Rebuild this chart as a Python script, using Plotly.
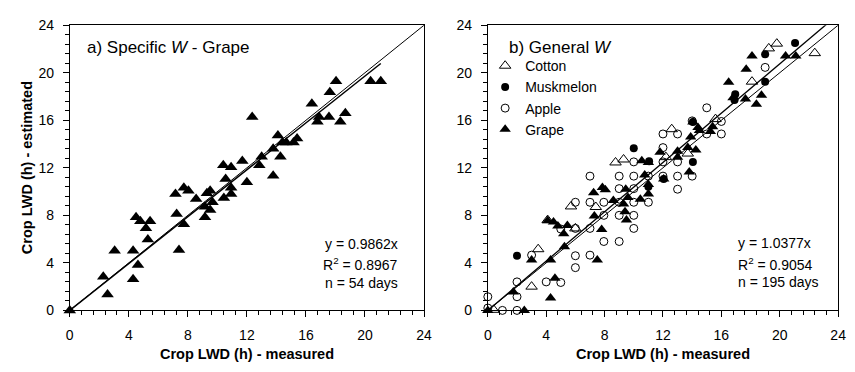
import plotly.graph_objects as go

# ---------------- data ----------------
# panel a) Specific W - Grape
grape_a_x = [0, 2.27, 2.56, 3.04, 4.29, 4.29, 4.49, 4.62, 4.78, 5.16, 5.44, 5.29, 7.16, 7.24, 7.4,
             7.73, 7.73, 8.04, 8.56, 9.16, 9.16, 9.29, 9.51, 9.51, 9.67, 10.4, 10.44, 10.56, 10.93,
             10.93, 10.93, 11.69, 12.0, 12.36, 12.84, 13.0, 13.78, 13.78, 14.1, 14.27, 14.4, 14.67,
             15.16, 15.4, 16.4, 16.78, 16.89, 17.56, 17.62, 18.04, 18.33, 18.67, 20.38, 21.07]
grape_a_y = [0, 2.84, 1.34, 5.03, 5.03, 2.62, 7.84, 3.83, 7.5, 6.91, 7.5, 5.97, 9.8, 8.11, 5.09,
             10.33, 7.26, 10.07, 9.37, 8.73, 7.84, 9.85, 10.07, 8.46, 9.1, 12.21, 9.45, 11.06, 12.05,
             10.33, 9.8, 12.58, 10.79, 16.28, 12.21, 12.93, 11.33, 13.6, 14.73, 12.93, 14.14, 14.14,
             14.14, 14.46, 17.4, 15.88, 16.28, 16.28, 18.37, 19.28, 15.88, 16.6, 19.28, 19.28]
slope_a = 0.9862

# panel b) General W
cotton_x = [0.4, 3.0, 3.45, 4.1, 5.7, 6.0, 7.4, 8.75, 9.3, 12.2, 12.6, 13.7, 15.6, 18.1, 19.25, 19.8, 22.4]
cotton_y = [0.05, 2.0, 5.15, 7.6, 8.75, 6.9, 8.7, 12.45, 12.7, 12.9, 15.25, 13.2, 16.1, 19.25, 22.05, 22.45, 21.65]

musk_x = [2.0, 10.0, 11.0, 11.05, 12.05, 14.05, 14.05, 16.9, 16.95, 19.0, 19.0, 21.05]
musk_y = [4.6, 13.65, 10.4, 12.55, 11.05, 12.5, 15.85, 17.7, 18.2, 19.25, 21.55, 22.5]

apple_x = [0, 0, 1, 2, 2, 2, 3, 4, 5, 5, 6, 6, 6, 6, 7, 7, 7, 7, 7.95, 7.95, 7.95, 9, 9, 9, 9, 9,
           10, 10, 10, 10, 10, 10, 11, 11, 12, 12, 12, 12, 13, 13, 13, 13, 14, 14, 15, 15, 16, 16, 19]
apple_y = [0.2, 1.15, 0, 0, 1.15, 2.4, 4.65, 2.4, 2.35, 6.85, 3.6, 4.6, 6.9, 9.1, 4.65, 6.9, 9.1, 11.3,
           5.8, 8.0, 9.1, 5.8, 8.0, 9.1, 10.25, 11.3, 6.9, 8.0, 9.1, 10.25, 11.3, 12.5, 9.1, 11.3,
           11.3, 12.5, 13.7, 14.85, 10.2, 11.3, 12.5, 14.85, 11.3, 15.95, 14.85, 17.05, 14.85, 15.9, 20.45]

grape_b_x = [0, 2.5, 1.75, 4.3, 4.6, 3.0, 4.3, 5.25, 4.1, 4.5, 4.8, 5.45, 5.2, 7.5, 7.8, 7.3, 7.25,
             7.85, 8.05, 8.6, 9.45, 9.6, 9.3, 9.4, 9.5, 10.45, 10.55, 10.75, 11.0, 11.0, 11.0, 11.8,
             12.05, 13.0, 13.0, 13.8, 13.7, 14.25, 13.9, 14.05, 14.4, 15.25, 15.4, 14.5, 16.5, 16.8,
             17.65, 17.7, 18.1, 18.4, 18.75, 20.4, 21.1]
grape_b_y = [0, 0, 1.55, 1.05, 2.7, 4.25, 4.25, 5.35, 7.55, 7.45, 7.1, 7.15, 6.45, 4.25, 6.8, 7.95, 9.9,
             10.35, 10.15, 9.25, 10.2, 9.5, 8.95, 8.3, 7.6, 9.35, 12.6, 11.4, 12.45, 10.6, 9.8, 13.3,
             11.05, 13.4, 12.9, 11.65, 13.7, 13.5, 14.6, 15.85, 15.4, 15.05, 15.45, 15.15, 19.2, 17.9,
             17.8, 20.3, 21.4, 17.35, 18.1, 21.4, 21.4]
slope_b = 1.0377

axis_range = [0, 24]
tick_vals = [0, 4, 8, 12, 16, 20, 24]
tick_text = [str(v) for v in tick_vals]

# ---------------- figure ----------------
W, H = 855, 372
FONT = "Liberation Sans, Arial, sans-serif"

fig = go.Figure()

# panel a
fig.add_trace(go.Scatter(x=axis_range, y=axis_range, mode="lines",
                         line=dict(color="black", width=1), xaxis="x", yaxis="y",
                         showlegend=False, hoverinfo="skip"))
fa_x = [0, max(grape_a_x)]
fig.add_trace(go.Scatter(x=fa_x, y=[slope_a * v for v in fa_x], mode="lines",
                         line=dict(color="black", width=1.5), xaxis="x", yaxis="y",
                         showlegend=False, hoverinfo="skip"))
fig.add_trace(go.Scatter(x=grape_a_x, y=grape_a_y, mode="markers", name="Grape",
                         marker=dict(symbol="triangle-up", size=11, color="black"),
                         xaxis="x", yaxis="y", showlegend=False, cliponaxis=False))

# panel b
fig.add_trace(go.Scatter(x=axis_range, y=axis_range, mode="lines",
                         line=dict(color="black", width=1), xaxis="x2", yaxis="y2",
                         showlegend=False, hoverinfo="skip"))
fig.add_trace(go.Scatter(x=axis_range, y=[slope_b * v for v in axis_range], mode="lines",
                         line=dict(color="black", width=1.3), xaxis="x2", yaxis="y2",
                         showlegend=False, hoverinfo="skip"))
fig.add_trace(go.Scatter(x=cotton_x, y=cotton_y, mode="markers", name="Cotton",
                         marker=dict(symbol="triangle-up-open", size=10, color="black",
                                     line=dict(width=1, color="black")),
                         xaxis="x2", yaxis="y2", cliponaxis=False))
fig.add_trace(go.Scatter(x=musk_x, y=musk_y, mode="markers", name="Muskmelon",
                         marker=dict(symbol="circle", size=8, color="black"),
                         xaxis="x2", yaxis="y2", cliponaxis=False))
fig.add_trace(go.Scatter(x=apple_x, y=apple_y, mode="markers", name="Apple",
                         marker=dict(symbol="circle-open", size=8, color="black",
                                     line=dict(width=1, color="black")),
                         xaxis="x2", yaxis="y2", cliponaxis=False))
fig.add_trace(go.Scatter(x=grape_b_x, y=grape_b_y, mode="markers", name="Grape",
                         marker=dict(symbol="triangle-up", size=10, color="black"),
                         xaxis="x2", yaxis="y2", cliponaxis=False))

def xp(px):
    return px / W

def yp(py):
    return (H - py) / H

y_dom = [yp(316), yp(18)]

def axis_common():
    return dict(range=axis_range, tickvals=tick_vals, ticktext=tick_text,
                showgrid=False, zeroline=False, showline=True, linecolor="black",
                linewidth=1, mirror=True, ticks="outside", ticklen=6, tickwidth=1,
                tickcolor="black",
                minor=dict(dtick=0.8, tick0=0, ticks="outside", ticklen=4,
                           tickcolor="black", tickwidth=1, showgrid=False),
                tickfont=dict(family=FONT, size=14, color="black"),
                fixedrange=True)

xa = axis_common(); xa.update(domain=[xp(66.7), xp(426)], anchor="y", ticklabelstandoff=6)
ya = axis_common(); ya.update(domain=y_dom, anchor="x", ticklabelstandoff=6)
xb = axis_common(); xb.update(domain=[xp(490.7), xp(846)], anchor="y2", ticklabelstandoff=6)
yb = axis_common(); yb.update(domain=y_dom, anchor="x2", ticklabelstandoff=6)

ann = []
def add_text(text, x, y, size=14, xanchor="left", angle=0):
    ann.append(dict(text=text, x=xp(x), y=yp(y), xref="paper", yref="paper",
                    xanchor=xanchor, yanchor="middle", showarrow=False, textangle=angle,
                    font=dict(family=FONT, size=size, color="black")))

# titles inside panels
add_text("a) Specific <i>W</i> - Grape", 82, 41.7, size=17)
add_text("b) General <i>W</i>", 510, 41.7, size=17)

# stats panel a
add_text("y = 0.9862x", 363, 247, xanchor="center")
add_text("R<sup>2</sup> = 0.8967", 362, 268, xanchor="center")
add_text("n = 54 days", 363, 287, xanchor="center")
# stats panel b
add_text("y = 1.0377x", 742.7, 246)
add_text("R<sup>2</sup> = 0.9054", 742.7, 267.7)
add_text("n = 195 days", 742.7, 286)

# axis titles
add_text("<b>Crop LWD (h) - measured</b>", 246, 362, size=14.5, xanchor="center")
add_text("<b>Crop LWD (h) - measured</b>", 668, 362, size=14.5, xanchor="center")
add_text("<b>Crop LWD (h) - estimated</b>", 22.7, 167, size=14.5, xanchor="center", angle=-90)

fig.update_layout(
    width=W, height=H, margin=dict(l=0, r=0, t=0, b=0),
    paper_bgcolor="white", plot_bgcolor="white",
    xaxis=xa, yaxis=ya, xaxis2=xb, yaxis2=yb,
    annotations=ann,
    showlegend=True,
    legend=dict(x=xp(488), y=yp(44), xanchor="left", yanchor="top",
                bgcolor="rgba(0,0,0,0)", borderwidth=0, tracegroupgap=0,
                font=dict(family=FONT, size=14, color="black"), itemwidth=30),
    font=dict(family=FONT, color="black"),
)

fig.write_html("out.html")
